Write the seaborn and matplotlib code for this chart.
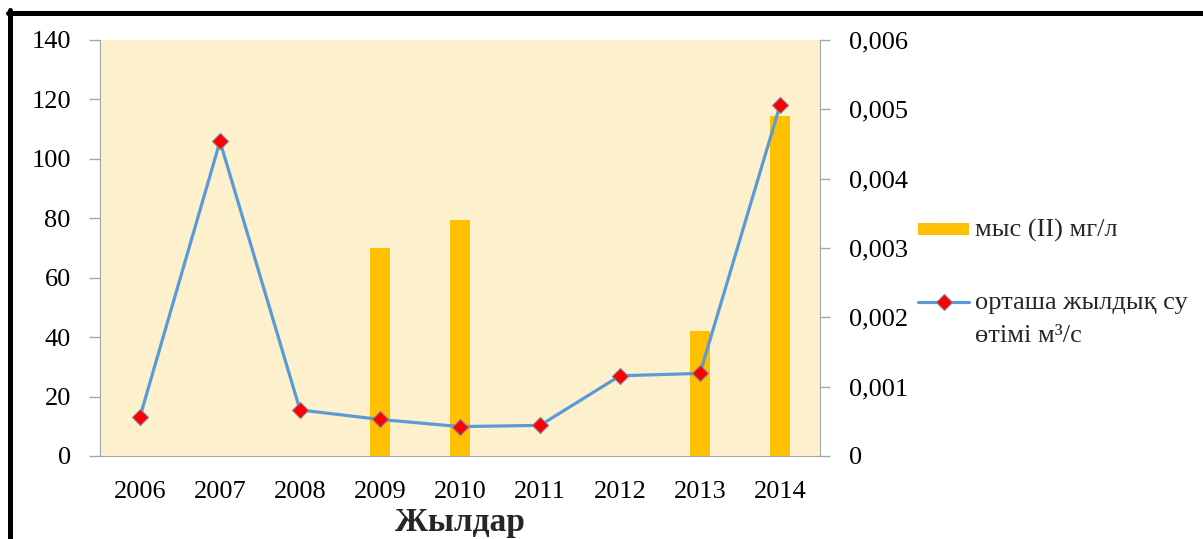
import numpy as np
import matplotlib
matplotlib.use("Agg")
import matplotlib.pyplot as plt
import seaborn as sns
from matplotlib.lines import Line2D

# --- data ---
years = ["2006", "2007", "2008", "2009", "2010", "2011", "2012", "2013", "2014"]
copper_mg_l = [0, 0, 0, 0.0030, 0.0034, 0, 0, 0.0018, 0.0049]       # мыс (II), right axis
flow_m3_s = [13.2, 105.9, 15.5, 12.3, 9.9, 10.3, 27.0, 27.8, 118.0]  # су өтімі, left axis

flow_ticks = [0, 20, 40, 60, 80, 100, 120, 140]
copper_ticks = [0, 0.001, 0.002, 0.003, 0.004, 0.005, 0.006]
copper_tick_labels = ["0", "0,001", "0,002", "0,003", "0,004", "0,005", "0,006"]

bar_label = "мыс (II) мг/л"
line_label = "орташа жылдық су\nөтімі м³/с"
xlabel = "Жылдар"

sns.set_style("white")
plt.rcParams["font.family"] = ["Liberation Serif", "DejaVu Serif"]

W, H = 1203, 539
fig = plt.figure(figsize=(W / 100, H / 100), dpi=100)
ax = fig.add_axes([100 / W, 1 - 456 / H, 720 / W, 416 / H])
ax.set_facecolor("#FDF0CD")

axis_grey = "#A6A6A6"
bar_color = "#FFC000"
line_color = "#5B9BD5"

# bars (copper concentration) on the base axes, scale shown on the right
sns.barplot(x=years, y=copper_mg_l, ax=ax, color=bar_color, width=0.25,
            saturation=1, linewidth=0)
ax.set_ylim(0, 0.006)
ax.set_xlim(-0.5, len(years) - 0.5)

# line (annual mean flow) on the twin axes so it sits above the bars
ax2 = ax.twinx()
sns.lineplot(x=np.arange(len(years)), y=flow_m3_s, ax=ax2, color=line_color,
             linewidth=2.3, marker="D", markersize=8,
             markerfacecolor="#FF0000", markeredgecolor="#8080A0",
             markeredgewidth=0.8)
ax2.set_ylim(0, 140)
ax2.set_xlim(-0.5, len(years) - 0.5)

# swap sides: copper scale on the right, flow scale on the left
ax.yaxis.tick_right()
ax.set_yticks(copper_ticks)
ax.set_yticklabels(copper_tick_labels)
ax2.yaxis.tick_left()
ax2.set_yticks(flow_ticks)

for a in (ax, ax2):
    for s in a.spines.values():
        s.set_visible(False)
    a.set_xlabel("")
    a.set_ylabel("")

ax.spines["right"].set_visible(True)
ax.spines["right"].set_color(axis_grey)
ax.spines["bottom"].set_visible(True)
ax.spines["bottom"].set_color(axis_grey)
ax2.spines["left"].set_visible(True)
ax2.spines["left"].set_color(axis_grey)

ax.tick_params(axis="y", which="both", right=True, left=False,
               labelright=True, labelleft=False, length=7,
               width=1, color=axis_grey, pad=14, labelsize=19, labelcolor="black")
ax.tick_params(axis="x", length=0, pad=18, labelsize=19, labelcolor="black")
ax2.tick_params(axis="y", which="both", left=True, right=False,
                labelleft=True, labelright=False, length=8,
                width=1, color=axis_grey, pad=13, labelsize=19, labelcolor="black")
ax2.tick_params(axis="x", bottom=False, labelbottom=False)

fig.text(460 / W, 1 - 531 / H, xlabel, ha="center", va="baseline",
         fontsize=24, fontweight="bold")

# legend: thick butt-capped line stands in for the bar swatch
handles = [
    Line2D([0], [0], color=bar_color, linewidth=8.6, solid_capstyle="butt"),
    Line2D([0], [0], color=line_color, linewidth=2.3, marker="D", markersize=8,
           markerfacecolor="#FF0000", markeredgecolor="#8080A0", markeredgewidth=0.8),
]
leg = fig.legend(handles, [bar_label, line_label], loc="upper left",
                 bbox_to_anchor=(918 / W, 1 - 219 / H), frameon=False, fontsize=19,
                 handlelength=1.95, handleheight=0.95, handletextpad=0.2,
                 labelspacing=1.9, borderpad=0, borderaxespad=0)
for t in leg.get_texts():
    t.set_linespacing(1.65)
# keep each handle level with the first line of its label
for col in leg._legend_handle_box.get_children():
    for item in col.get_children():
        item.align = "top"

# outer border
fig.add_artist(Line2D([8 / W, 1.01], [1 - 12.5 / H] * 2, color="black",
                      linewidth=3.6, transform=fig.transFigure))
fig.add_artist(Line2D([9.5 / W] * 2, [-0.01, 1 - 10 / H], color="black",
                      linewidth=3.6, transform=fig.transFigure))

fig.savefig("out.png", dpi=100)
